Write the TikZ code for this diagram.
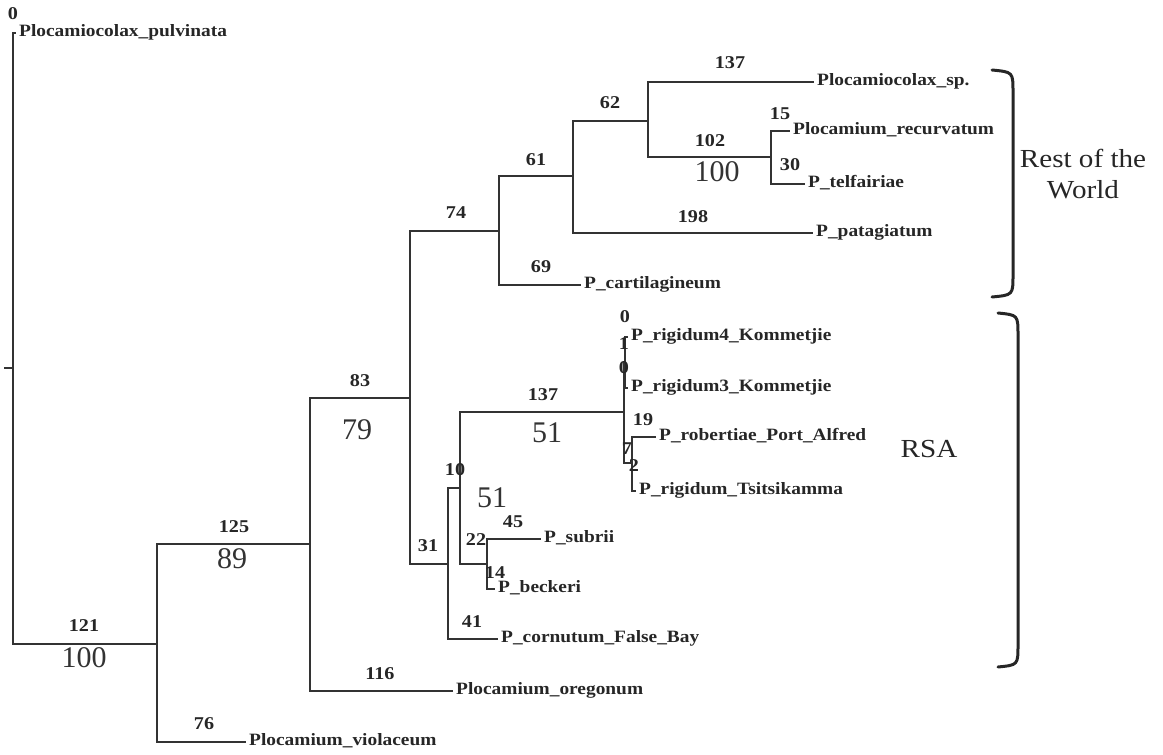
\documentclass[tikz,border=0pt]{standalone}
\usepackage{fontspec}
\setmainfont{Liberation Serif}
\newfontfamily\lblfont{Liberation Serif}[FakeStretch=1.12]
\begin{document}
\begin{tikzpicture}[x=1pt,y=-1pt,
  leaf/.style={anchor=west, inner xsep=3pt, inner ysep=0pt, text height=0.86em, text depth=0.22em,
    font=\lblfont\bfseries\fontsize{17.3}{18}\selectfont, text=black!85},
  bl/.style={font=\lblfont\bfseries\fontsize{18}{18}\selectfont, text=black!85, inner sep=0pt},
  big/.style={font=\fontsize{30}{30}\selectfont, text=black!80, inner sep=0pt},
  region/.style={font=\lblfont\fontsize{26}{31}\selectfont, text=black!85, align=center, inner sep=0pt},
  br/.style={draw=black!80, line width=1.2pt},
  brk/.style={draw=black!85, line width=3pt, line cap=round}]
\useasboundingbox (0,0) rectangle (1163,755);

% internal nodes
\coordinate (tick) at (4,368);
\coordinate (root) at (13,368);
\coordinate (n1) at (157,644);
\coordinate (n2) at (310,544);
\coordinate (n3) at (410,398);
\coordinate (n4) at (499,231);
\coordinate (n6) at (573,176);
\coordinate (n7) at (648,121);
\coordinate (n8) at (771,157);
\coordinate (n5) at (448,564);
\coordinate (n9) at (460,488);
\coordinate (n10) at (487,564);
\coordinate (nA) at (624,412);
\coordinate (nB) at (625,362);
\coordinate (nC) at (632,463);

% leaves
\node[leaf] (pulv) at (16,33) {Plocamiocolax\_pulvinata};
\node[leaf] (sp) at (814,82) {Plocamiocolax\_sp.};
\node[leaf] (recurv) at (790,131) {Plocamium\_recurvatum};
\node[leaf] (telf) at (805,184) {P\_telfairiae};
\node[leaf] (patag) at (813,233) {P\_patagiatum};
\node[leaf] (cartil) at (581,285) {P\_cartilagineum};
\node[leaf] (rig4) at (628,337) {P\_rigidum4\_Kommetjie};
\node[leaf] (rig3) at (628,388) {P\_rigidum3\_Kommetjie};
\node[leaf] (robert) at (656,437) {P\_robertiae\_Port\_Alfred};
\node[leaf] (tsits) at (636,491) {P\_rigidum\_Tsitsikamma};
\node[leaf] (subrii) at (541,539) {P\_subrii};
\node[leaf] (beck) at (495,589) {P\_beckeri};
\node[leaf] (corn) at (498,639) {P\_cornutum\_False\_Bay};
\node[leaf] (oreg) at (453,691) {Plocamium\_oregonum};
\node[leaf] (viol) at (246,742) {Plocamium\_violaceum};

% branches
\draw[br] (tick) -- (root);
\draw[br] (root) |- (pulv.west);
\draw[br] (root) |- (n1);
\draw[br] (n1) |- (n2);
\draw[br] (n1) |- (viol.west);
\draw[br] (n2) |- (n3);
\draw[br] (n2) |- (oreg.west);
\draw[br] (n3) |- (n4);
\draw[br] (n3) |- (n5);
\draw[br] (n4) |- (n6);
\draw[br] (n4) |- (cartil.west);
\draw[br] (n6) |- (n7);
\draw[br] (n6) |- (patag.west);
\draw[br] (n7) |- (sp.west);
\draw[br] (n7) |- (n8);
\draw[br] (n8) |- (recurv.west);
\draw[br] (n8) |- (telf.west);
\draw[br] (n5) |- (n9);
\draw[br] (n5) |- (corn.west);
\draw[br] (n9) |- (nA);
\draw[br] (n9) |- (n10);
\draw[br] (n10) |- (subrii.west);
\draw[br] (n10) |- (beck.west);
\draw[br] (nA) |- (nB);
\draw[br] (nA) |- (nC);
\draw[br] (nB) |- (rig4.west);
\draw[br] (nB) |- (rig3.west);
\draw[br] (nC) |- (robert.west);
\draw[br] (nC) |- (tsits.west);

% branch lengths
\node[bl] (l0a) at (13,14) {0};
\node[bl] (l121) at (84,626) {121};
\node[bl] (l125) at (234,527) {125};
\node[bl] (l76) at (204,724) {76};
\node[bl] (l116) at (380,674) {116};
\node[bl] (l83) at (360,381) {83};
\node[bl] (l74) at (456,213) {74};
\node[bl] (l61) at (536,160) {61};
\node[bl] (l69) at (541,267) {69};
\node[bl] (l62) at (610,103) {62};
\node[bl] (l137a) at (730,63) {137};
\node[bl] (l198) at (693,217) {198};
\node[bl] (l102) at (710,141) {102};
\node[bl] (l15) at (780,114) {15};
\node[bl] (l30) at (790,165) {30};
\node[bl] (l31) at (428,546) {31};
\node[bl] (l10) at (455,470) {10};
\node[bl] (l41) at (472,622) {41};
\node[bl] (l137b) at (543,395) {137};
\node[bl] (l22) at (476,540) {22};
\node[bl] (l45) at (513,522) {45};
\node[bl] (l14) at (495,573) {14};
\node[bl] (l0b) at (625,317) {0};
\node[bl] (l1) at (624,344) {1};
\node[bl] (l0c) at (624,368) {0};
\node[bl] (l19) at (643,420) {19};
\node[bl] (l7) at (627,449) {7};
\node[bl] (l2) at (634,466) {2};

% bootstrap values
\node[big] (b100a) at (84,658) {100};
\node[big] (b89) at (232,559) {89};
\node[big] (b79) at (357,430) {79};
\node[big] (b100b) at (717,172) {100};
\node[big] (b51a) at (547,433) {51};
\node[big] (b51b) at (492,498) {51};

% brackets
\draw[brk] (992,70) .. controls (1013,72) .. (1013,92) -- (1013,275) .. controls (1013,295) .. (992,297);
\draw[brk] (998,313) .. controls (1018,315) .. (1018,335) -- (1018,645) .. controls (1018,665) .. (998,667);
\node[region] (row) at (1083,174) {Rest of the\\World};
\node[region] (rsa) at (929,449) {RSA};
\end{tikzpicture}
\end{document}
